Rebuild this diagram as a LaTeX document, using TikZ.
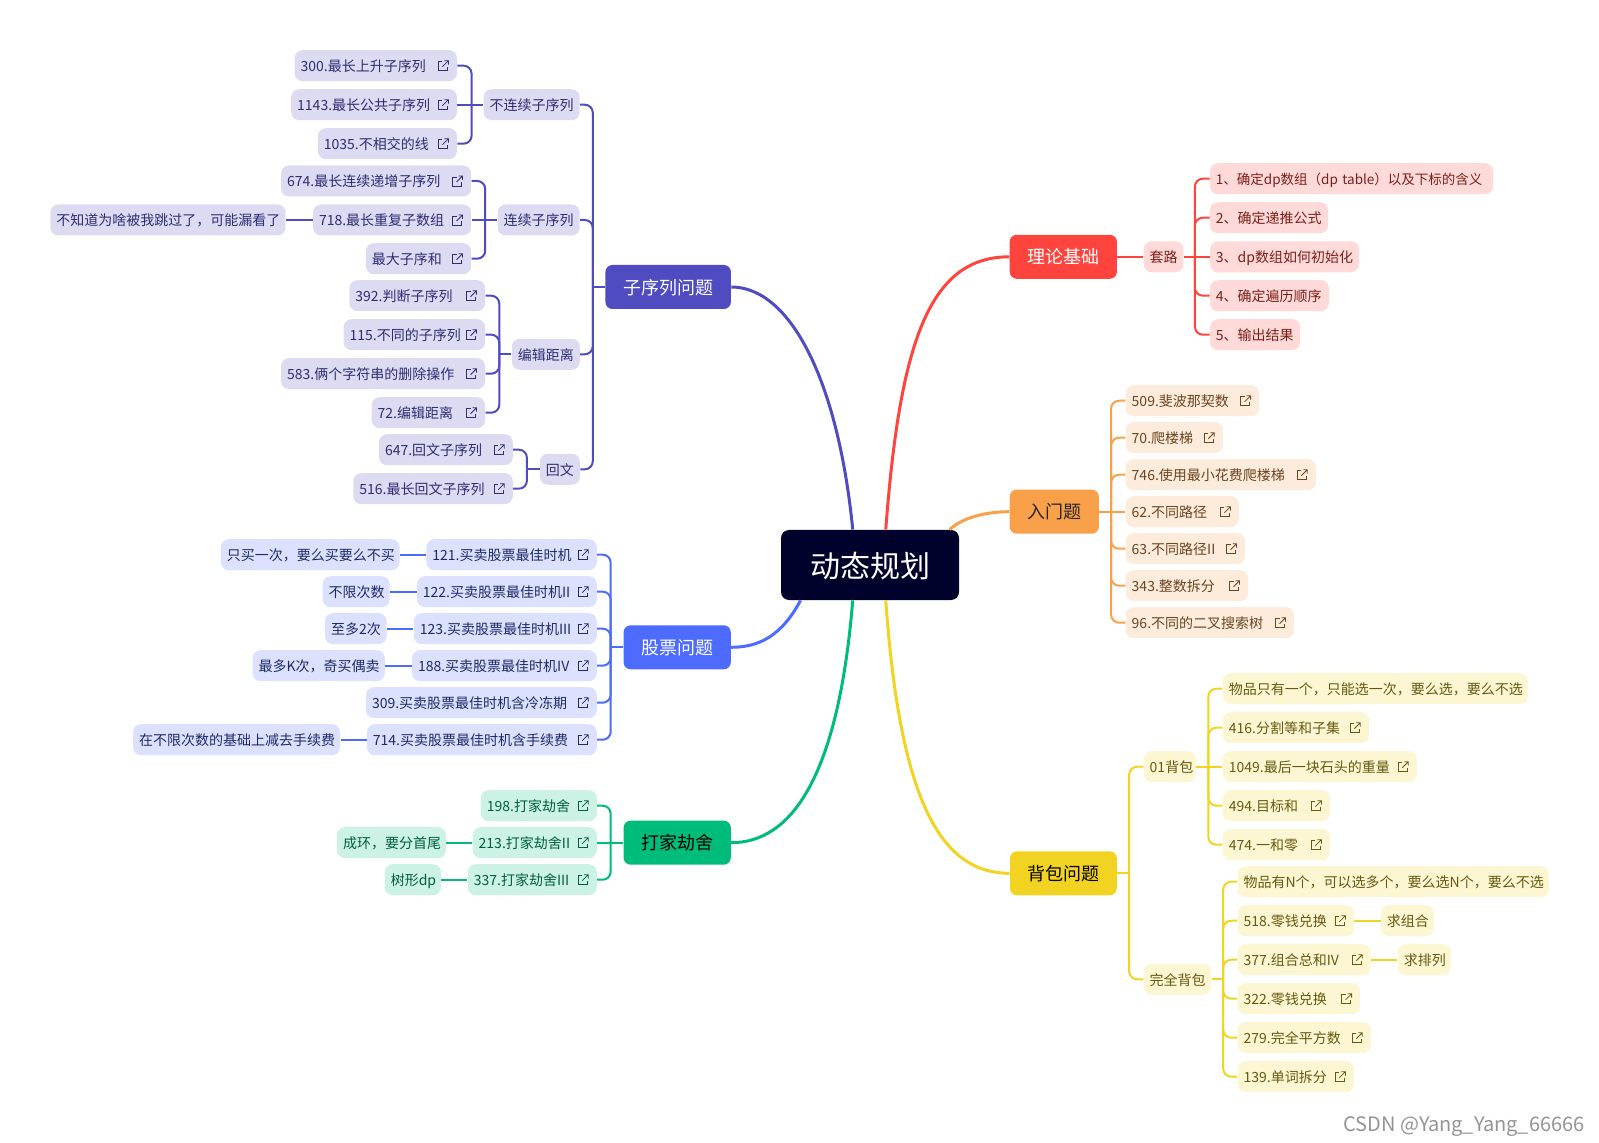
\documentclass[tikz,border=0pt]{standalone}
\usepackage{fontspec}
\setmainfont{Noto Sans CJK SC}
\definecolor{seqmain}{HTML}{4F4BC0}
\definecolor{seqleaf}{HTML}{DCDBF2}
\definecolor{seqtext}{HTML}{2F2D73}
\definecolor{stockmain}{HTML}{4D6BFE}
\definecolor{stockleaf}{HTML}{DBE1FF}
\definecolor{stocktext}{HTML}{1F2B66}
\definecolor{robmain}{HTML}{00BC7B}
\definecolor{robleaf}{HTML}{CCF2E5}
\definecolor{robtext}{HTML}{005F3E}
\definecolor{basemain}{HTML}{FF443D}
\definecolor{baseleaf}{HTML}{FFDAD8}
\definecolor{basetext}{HTML}{7A1F1B}
\definecolor{intromain}{HTML}{F9A04A}
\definecolor{introleaf}{HTML}{FDECDB}
\definecolor{introtext}{HTML}{6B4420}
\definecolor{bagmain}{HTML}{F3D321}
\definecolor{bagleaf}{HTML}{FDF6D3}
\definecolor{bagtext}{HTML}{665A10}
\definecolor{rootfill}{HTML}{00022B}
\tikzset{
    w/.style={minimum width=#1*0.5pt, text width=#1*0.5pt-6pt},
    box/.style={anchor=west, inner xsep=3pt, inner ysep=0pt, align=left},
    leaf/.style={box, rounded corners=4pt, minimum height=15.5pt, text height=6.4pt, text depth=0.4pt,
        font=\fontsize{7}{8}\selectfont},
    hub/.style={box, align=center, rounded corners=3.5pt, minimum height=22pt, text height=8pt, text depth=0.8pt,
        font=\fontsize{9}{10}\selectfont},
    link/.style={line width=1pt, rounded corners=4pt},
    curve/.style={line width=1.5pt},
    extlink/.pic={
        \draw[line width=0.4pt] (-1,-4) -- (-5,-4) -- (-5,5) -- (4,5) -- (4,1);
        \draw[line width=0.4pt] (-1,1) -- (5,-5) (1,-5) -- (5,-5) -- (5,-1);
    },
    out/.style={append after command={pic[color=#1] at ([xshift=-7pt]\tikzlastnode.east) {extlink}}},
    seq/.style={leaf, fill=seqleaf, text=seqtext},
    seqx/.style={seq, out=seqtext},
    stock/.style={leaf, fill=stockleaf, text=stocktext},
    stockx/.style={stock, out=stocktext},
    rob/.style={leaf, fill=robleaf, text=robtext},
    robx/.style={rob, out=robtext},
    base/.style={leaf, fill=baseleaf, text=basetext},
    intro/.style={leaf, fill=introleaf, text=introtext},
    introx/.style={intro, out=introtext},
    bag/.style={leaf, fill=bagleaf, text=bagtext},
    bagx/.style={bag, out=bagtext},
}
\begin{document}
\begin{tikzpicture}[x=0.5pt, y=-0.5pt]
    \useasboundingbox (0, 0) rectangle (1599, 1143);

    \node[fill=rootfill, text=white, rounded corners=4pt, minimum width=89pt, minimum height=35pt, inner ysep=0pt, text height=14pt, text depth=1pt, font=\fontsize{15}{16}\selectfont] (dp) at (870, 565) {动态规划};

    \node[hub, w=125.5, fill=seqmain, text=white] (seqhub) at (605, 287) {子序列问题};
    \node[hub, w=107.2, fill=stockmain, text=white] (stockhub) at (623.2, 647.3) {股票问题};
    \node[hub, w=107.2, fill=robmain, text=black] (robhub) at (623.2, 842.7) {打家劫舍};
    \node[hub, w=107.2, fill=basemain, text=white] (basehub) at (1009.3, 256.8) {理论基础};
    \node[hub, w=89.2, fill=intromain, text=black!85] (introhub) at (1009.3, 511.7) {入门题};
    \node[hub, w=106.8, fill=bagmain, text=black] (baghub) at (1009.6, 873.3) {背包问题};

    \draw[curve, seqmain] (dp.116.6) .. controls (838, 380) and (790, 287) .. (seqhub.east);
    \draw[curve, stockmain] (dp.-153.4) .. controls (782, 635) and (760, 647.3) .. (stockhub.east);
    \draw[curve, robmain] (dp.-116.6) .. controls (838, 780) and (790, 842.7) .. (robhub.east);
    \draw[curve, basemain] (dp.66.8) .. controls (900, 340) and (930, 256.8) .. (basehub.west);
    \draw[curve, intromain] (dp.24.7) .. controls (962, 518) and (985, 511.7) .. (introhub.west);
    \draw[curve, bagmain] (dp.-66.8) .. controls (900, 800) and (940, 873.3) .. (baghub.west);

    \node[seq, w=96] (nolink) at (483.3, 104.7) {不连续子序列};
    \node[seq, w=82] (cont) at (497.3, 220) {连续子序列};
    \node[seq, w=68] (edit) at (511.4, 354.3) {编辑距离};
    \node[seq, w=40] (pal) at (539.5, 469.3) {回文};
    \node[seqx, w=162.4] (q300) at (294.2, 65.7) {300.最长上升子序列};
    \node[seqx, w=165.8] (q1143) at (290.8, 104.7) {1143.最长公共子序列};
    \node[seqx, w=139.1] (q1035) at (317.5, 143.7) {1035.不相交的线};
    \node[seqx, w=190] (q674) at (280.7, 181) {674.最长连续递增子序列};
    \node[seqx, w=158.1] (q718) at (312.6, 220) {718.最长重复子数组};
    \node[seq, w=235] (skipnote) at (50, 220) {不知道为啥被我跳过了，可能漏看了};
    \node[seqx, w=105.2] (qmax) at (365.5, 258.7) {最大子序和};
    \node[seqx, w=135.7] (q392) at (349, 295.7) {392.判断子序列};
    \node[seqx, w=141.5] (q115) at (343.2, 334.7) {115.不同的子序列};
    \node[seqx, w=204] (q583) at (280.7, 373.7) {583.俩个字符串的删除操作};
    \node[seqx, w=113.4] (q72) at (371.3, 412.7) {72.编辑距离};
    \node[seqx, w=133.8] (q647) at (378.6, 449.7) {647.回文子序列};
    \node[seqx, w=159.5] (q516) at (352.9, 488.7) {516.最长回文子序列};

    \coordinate (busnolink) at (471.6, 104.7);
    \coordinate (buscont) at (485.2, 220);
    \coordinate (busedit) at (499.3, 354.3);
    \coordinate (buspal) at (526.9, 469.3);
    \coordinate (busseq) at (592.8, 287);
    \draw[link, seqmain] (q300.east) -| (busnolink);
    \draw[link, seqmain] (q1143.east) -- (nolink.west);
    \draw[link, seqmain] (q1035.east) -| (busnolink);
    \draw[link, seqmain] (q674.east) -| (buscont);
    \draw[link, seqmain] (q718.east) -- (cont.west);
    \draw[link, seqmain] (skipnote.east) -- (q718.west);
    \draw[link, seqmain] (qmax.east) -| (buscont);
    \draw[link, seqmain] (q392.east) -| (busedit);
    \draw[link, seqmain] (q115.east) -| (busedit);
    \draw[link, seqmain] (q583.east) -| (busedit);
    \draw[link, seqmain] (q72.east) -| (busedit);
    \draw[link, seqmain] (busedit) -- (edit.west);
    \draw[link, seqmain] (q647.east) -| (buspal);
    \draw[link, seqmain] (q516.east) -| (buspal);
    \draw[link, seqmain] (buspal) -- (pal.west);
    \draw[link, seqmain] (nolink.east) -| (busseq);
    \draw[link, seqmain] (cont.east) -| (busseq);
    \draw[link, seqmain] (edit.east) -| (busseq);
    \draw[link, seqmain] (pal.east) -| (busseq);
    \draw[link, seqmain] (busseq) -- (seqhub.west);

    \node[stockx, w=170.5] (q121) at (425.9, 554.7) {121.买卖股票最佳时机};
    \node[stock, w=178.6] (once) at (220.5, 554.7) {只买一次，要么买要么不买};
    \node[stockx, w=179.9] (q122) at (416.5, 591.7) {122.买卖股票最佳时机II};
    \node[stock, w=67] (anytime) at (322.3, 591.7) {不限次数};
    \node[stockx, w=183] (q123) at (413.4, 628.7) {123.买卖股票最佳时机III};
    \node[stock, w=61.6] (twice) at (324.6, 628.7) {至多2次};
    \node[stockx, w=184.8] (q188) at (411.6, 665.7) {188.买卖股票最佳时机IV};
    \node[stock, w=132.2] (ktimes) at (252.2, 665.7) {最多K次，奇买偶卖};
    \node[stockx, w=230.8] (q309) at (365.6, 702.7) {309.买卖股票最佳时机含冷冻期};
    \node[stockx, w=229.9] (q714) at (366.5, 739.7) {714.买卖股票最佳时机含手续费};
    \node[stock, w=207.1] (feenote) at (132.6, 739.7) {在不限次数的基础上减去手续费};

    \coordinate (busstock) at (610.7, 647.3);
    \draw[link, stockmain] (once.east) -- (q121.west);
    \draw[link, stockmain] (anytime.east) -- (q122.west);
    \draw[link, stockmain] (twice.east) -- (q123.west);
    \draw[link, stockmain] (ktimes.east) -- (q188.west);
    \draw[link, stockmain] (feenote.east) -- (q714.west);
    \draw[link, stockmain] (q121.east) -| (busstock);
    \draw[link, stockmain] (q122.east) -| (busstock);
    \draw[link, stockmain] (q123.east) -| (busstock);
    \draw[link, stockmain] (q188.east) -| (busstock);
    \draw[link, stockmain] (q309.east) -| (busstock);
    \draw[link, stockmain] (q714.east) -| (busstock);
    \draw[link, stockmain] (busstock) -- (stockhub.west);

    \node[robx, w=116] (q198) at (480.4, 805.7) {198.打家劫舍};
    \node[robx, w=124.1] (q213) at (472.3, 842.7) {213.打家劫舍II};
    \node[rob, w=108.9] (ring) at (336.6, 842.7) {成环，要分首尾};
    \node[robx, w=129] (q337) at (467.4, 879.7) {337.打家劫舍III};
    \node[rob, w=56.2] (treedp) at (384.4, 879.7) {树形dp};

    \coordinate (busrob) at (610.7, 842.7);
    \draw[link, robmain] (ring.east) -- (q213.west);
    \draw[link, robmain] (treedp.east) -- (q337.west);
    \draw[link, robmain] (q198.east) -| (busrob);
    \draw[link, robmain] (q337.east) -| (busrob);
    \draw[link, robmain] (q213.east) -- (robhub.west);

    \node[base, w=39.7] (routine) at (1143.3, 256.8) {套路};
    \node[base, w=283.2, inner xsep=2.4pt, font=\fontsize{6.75}{8}\selectfont] (s1) at (1209.5, 178.7) {\mbox{1、确定dp数组（dp table）以及下标的含义}};
    \node[base, w=118.2] (s2) at (1209.5, 217.7) {2、确定递推公式};
    \node[base, w=149.2] (s3) at (1209.5, 256.8) {3、dp数组如何初始化};
    \node[base, w=119] (s4) at (1209.5, 295.7) {4、确定遍历顺序};
    \node[base, w=90.3] (s5) at (1209.5, 334.7) {5、输出结果};

    \coordinate (busbase) at (1194.9, 256.8);
    \draw[link, basemain] (basehub.east) -- (routine.west);
    \draw[link, basemain] (routine.east) -- (s3.west);
    \draw[link, basemain] (busbase) |- (s1.west);
    \draw[link, basemain] (busbase) |- (s2.west);
    \draw[link, basemain] (busbase) |- (s4.west);
    \draw[link, basemain] (busbase) |- (s5.west);

    \node[introx, w=133.5] (q509) at (1125.3, 400.7) {509.斐波那契数};
    \node[introx, w=97.2] (q70) at (1125.3, 437.7) {70.爬楼梯};
    \node[introx, w=190.2] (q746) at (1125.3, 474.7) {746.使用最小花费爬楼梯};
    \node[introx, w=113.3] (q62) at (1125.3, 511.7) {62.不同路径};
    \node[introx, w=119.4] (q63) at (1125.3, 548.7) {63.不同路径II};
    \node[introx, w=122.4] (q343) at (1125.3, 585.7) {343.整数拆分};
    \node[introx, w=168.4] (q96) at (1125.3, 622.7) {96.不同的二叉搜索树};

    \coordinate (busintro) at (1111.1, 511.7);
    \draw[link, intromain] (introhub.east) -- (q62.west);
    \draw[link, intromain] (busintro) |- (q509.west);
    \draw[link, intromain] (busintro) |- (q70.west);
    \draw[link, intromain] (busintro) |- (q746.west);
    \draw[link, intromain] (busintro) |- (q63.west);
    \draw[link, intromain] (busintro) |- (q343.west);
    \draw[link, intromain] (busintro) |- (q96.west);

    \node[bag, w=52.1] (zeroone) at (1143.3, 766.7) {01背包};
    \node[bag, w=305] (onenote) at (1222.4, 688.7) {物品只有一个，只能选一次，要么选，要么不选};
    \node[bagx, w=146.1] (q416) at (1222.4, 727.7) {416.分割等和子集};
    \node[bagx, w=194.1] (q1049) at (1222.4, 766.7) {1049.最后一块石头的重量};
    \node[bagx, w=107.2] (q494) at (1222.4, 805.7) {494.目标和};
    \node[bagx, w=107.2] (q474) at (1222.4, 844.7) {474.一和零};
    \node[bag, w=67.5] (full) at (1143.3, 979.3) {完全背包};
    \node[bag, w=311.3] (fullnote) at (1237.2, 881.7) {物品有N个，可以选多个，要么选N个，要么不选};
    \node[bagx, w=116.4] (q518) at (1237.2, 920.7) {518.零钱兑换};
    \node[bag, w=52.9] (combo) at (1380.5, 920.7) {求组合};
    \node[bagx, w=133.3] (q377) at (1237.2, 959.7) {377.组合总和IV};
    \node[bag, w=53] (perm) at (1397.4, 959.7) {求排列};
    \node[bagx, w=122.6] (q322) at (1237.2, 998.7) {322.零钱兑换};
    \node[bagx, w=133.3] (q279) at (1237.2, 1037.7) {279.完全平方数};
    \node[bagx, w=116.4] (q139) at (1237.2, 1076.7) {139.单词拆分};

    \coordinate (busbag) at (1129.2, 873.3);
    \coordinate (buszero) at (1208.3, 766.7);
    \coordinate (busfull) at (1223.2, 979.3);
    \draw[link, bagmain] (baghub.east) -- (busbag);
    \draw[link, bagmain] (busbag) |- (zeroone.west);
    \draw[link, bagmain] (busbag) |- (full.west);
    \draw[link, bagmain] (zeroone.east) -- (q1049.west);
    \draw[link, bagmain] (buszero) |- (onenote.west);
    \draw[link, bagmain] (buszero) |- (q416.west);
    \draw[link, bagmain] (buszero) |- (q494.west);
    \draw[link, bagmain] (buszero) |- (q474.west);
    \draw[link, bagmain] (full.east) -- (busfull);
    \draw[link, bagmain] (busfull) |- (fullnote.west);
    \draw[link, bagmain] (busfull) |- (q518.west);
    \draw[link, bagmain] (busfull) |- (q377.west);
    \draw[link, bagmain] (busfull) |- (q322.west);
    \draw[link, bagmain] (busfull) |- (q279.west);
    \draw[link, bagmain] (busfull) |- (q139.west);
    \draw[link, bagmain] (q518.east) -- (combo.west);
    \draw[link, bagmain] (q377.east) -- (perm.west);

    \node[anchor=east, inner sep=0pt, text=black!42, font=\fontsize{10}{11}\selectfont] (mark) at (1585, 1127) {CSDN @Yang\_Yang\_66666};
\end{tikzpicture}
\end{document}
